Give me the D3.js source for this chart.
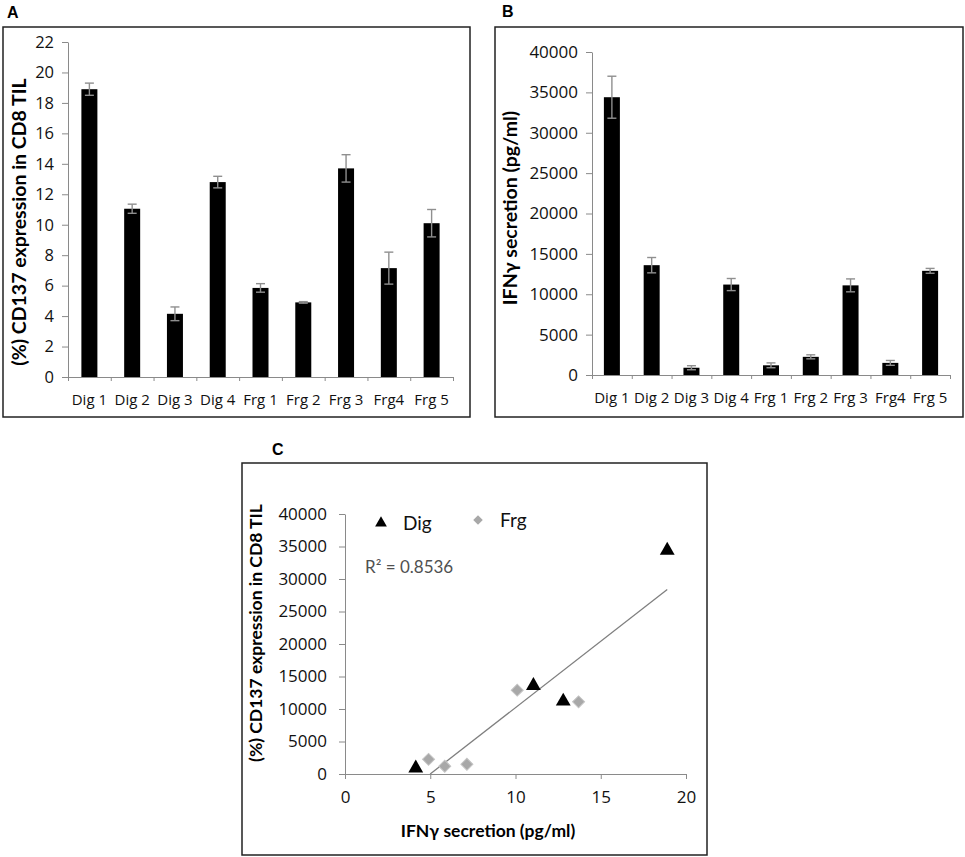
<!DOCTYPE html>
<html>
<head>
<meta charset="utf-8">
<script src="https://cdn.jsdelivr.net/npm/d3@7"></script>
<style>
  body { margin: 0; background: #fff; }
  svg { display: block; font-family: Lato, "Open Sans", sans-serif; }
  .axis path, .axis line { stroke: #8a8a8a; }
  .axis text { fill: #111; font-family: "Open Sans", sans-serif; }
</style>
</head>
<body>
<div id="chart"></div>
<script>
// Data
const categories = ["Dig 1", "Dig 2", "Dig 3", "Dig 4", "Frg 1", "Frg 2", "Frg 3", "Frg4", "Frg 5"];
const cd137Values = [18.9, 11.05, 4.15, 12.8, 5.85, 4.9, 13.7, 7.15, 10.1];
const cd137Errors = [0.4, 0.3, 0.45, 0.38, 0.28, 0.05, 0.9, 1.05, 0.9];
const ifngValues = [34400, 13600, 900, 11200, 1200, 2250, 11100, 1500, 12900];
const ifngErrors = [2600, 950, 250, 750, 300, 250, 800, 300, 300];
const cd137Ticks = [0, 2, 4, 6, 8, 10, 12, 14, 16, 18, 20, 22];
const ifngTicks = [0, 5000, 10000, 15000, 20000, 25000, 30000, 35000, 40000];
const scatterXTicks = [0, 5, 10, 15, 20];
const groups = ["Dig", "Frg"];
const r2Label = "R\u00B2 = 0.8536";
const cd137Title = "(%) CD137 expression in CD8 TIL";
const ifngTitle = "IFN\u03B3 secretion (pg/ml)";

const fmt = d3.format("d");
const svg = d3.select("#chart").append("svg").attr("width", 965).attr("height", 857);

// panel frames
function frame(x0, y0, x1, y1, letter, lx, ly) {
  svg.append("rect")
    .attr("x", x0).attr("y", y0).attr("width", x1 - x0).attr("height", y1 - y0)
    .attr("fill", "none").attr("stroke", "#222").attr("stroke-width", 1.5);
  svg.append("text").attr("x", lx).attr("y", ly)
    .attr("font-family", "Liberation Sans, Arial, sans-serif")
    .attr("font-weight", "bold").attr("font-size", 16).text(letter);
}

// bar chart with error bars
function barPanel(opts) {
  const g = svg.append("g");
  const slots = d3.scaleLinear().domain([0, categories.length]).range([opts.left, opts.right]);
  const y = d3.scaleLinear().domain([0, d3.max(opts.ticks)]).range([opts.bottom, opts.top]);
  const cx = (d) => slots(categories.indexOf(d) + 0.5);
  const bw = 16;

  g.selectAll("rect.bar").data(categories).join("rect")
    .attr("class", "bar")
    .attr("x", (d) => cx(d) - bw / 2)
    .attr("width", bw)
    .attr("y", (d, i) => y(opts.values[i]))
    .attr("height", (d, i) => y(0) - y(opts.values[i]))
    .attr("fill", "#000");

  // error bars
  const eb = g.selectAll("g.err").data(categories).join("g").attr("class", "err")
    .attr("stroke", "#8f8f8f").attr("stroke-width", 1.4);
  eb.append("line")
    .attr("x1", cx).attr("x2", cx)
    .attr("y1", (d, i) => y(opts.values[i] + opts.errors[i]))
    .attr("y2", (d, i) => y(opts.values[i] - opts.errors[i]));
  [1, -1].forEach((s) => {
    eb.append("line")
      .attr("x1", (d) => cx(d) - 4.5).attr("x2", (d) => cx(d) + 4.5)
      .attr("y1", (d, i) => y(opts.values[i] + s * opts.errors[i]))
      .attr("y2", (d, i) => y(opts.values[i] + s * opts.errors[i]));
  });

  const yAxis = g.append("g").attr("class", "axis")
    .attr("transform", `translate(${opts.left},0)`)
    .call(d3.axisLeft(y).tickValues(opts.ticks).tickFormat(fmt).tickSize(6).tickSizeOuter(0).tickPadding(8));
  yAxis.selectAll("text").attr("font-size", opts.tickFont);

  g.append("g").attr("class", "axis")
    .attr("transform", `translate(0,${opts.bottom})`)
    .call(d3.axisBottom(slots).tickValues(d3.range(0, categories.length + 1)).tickFormat("").tickSize(4).tickSizeOuter(0));

  g.selectAll("text.cat").data(categories).join("text")
    .attr("class", "cat")
    .attr("x", cx)
    .attr("y", opts.bottom + opts.catOffset)
    .attr("text-anchor", "middle")
    .attr("font-family", "Open Sans, sans-serif")
    .attr("font-size", 15)
    .attr("fill", "#111")
    .text((d) => d);

  g.append("text")
    .attr("transform", `translate(${opts.titleX},${opts.titleY}) rotate(-90)`)
    .attr("text-anchor", "middle")
    .attr("dominant-baseline", "middle")
    .attr("font-weight", "bold")
    .attr("font-size", opts.titleFont)
    .text(opts.title);
}

// Panel A
frame(3, 27, 470, 417, "A", 7, 18);
barPanel({
  left: 68, right: 453, top: 42, bottom: 377,
  values: cd137Values, errors: cd137Errors, ticks: cd137Ticks,
  tickFont: 16.5, catOffset: 28, title: cd137Title, titleX: 21, titleY: 222, titleFont: 19.5
});

// Panel B
frame(495, 27, 963, 417, "B", 502, 17);
barPanel({
  left: 592, right: 950, top: 52, bottom: 375,
  values: ifngValues, errors: ifngErrors, ticks: ifngTicks,
  tickFont: 17, catOffset: 28, title: ifngTitle, titleX: 512, titleY: 208, titleFont: 19.5
});

// Panel C: scatter of the same measurements
frame(242, 463, 707, 855, "C", 272, 455);
const pts = categories.map((c, i) => ({
  group: c.startsWith("Dig") ? "Dig" : "Frg",
  x: cd137Values[i],
  y: ifngValues[i]
}));

const cg = svg.append("g");
const sx = d3.scaleLinear().domain([0, 20]).range([345, 686]);
const sy = d3.scaleLinear().domain([0, 40000]).range([774, 514]);

const cya = cg.append("g").attr("class", "axis").attr("transform", "translate(345,0)")
  .call(d3.axisLeft(sy).tickValues(ifngTicks).tickFormat(fmt).tickSize(6).tickSizeOuter(0).tickPadding(12));
cya.selectAll("text").attr("font-size", 17).attr("fill", "#505050");
const cxa = cg.append("g").attr("class", "axis").attr("transform", "translate(0,774)")
  .call(d3.axisBottom(sx).tickValues(scatterXTicks).tickFormat(fmt).tickSize(5).tickSizeOuter(0).tickPadding(12));
cxa.selectAll("text").attr("font-size", 17).attr("fill", "#505050");

// least squares trendline
const mx = d3.mean(pts, (d) => d.x);
const my = d3.mean(pts, (d) => d.y);
const slope = d3.sum(pts, (d) => (d.x - mx) * (d.y - my)) / d3.sum(pts, (d) => (d.x - mx) ** 2);
const intercept = my - slope * mx;
const xStart = Math.max(d3.min(pts, (d) => d.x), -intercept / slope);
const xEnd = d3.max(pts, (d) => d.x);
cg.append("line")
  .attr("x1", sx(xStart)).attr("y1", sy(intercept + slope * xStart))
  .attr("x2", sx(xEnd)).attr("y2", sy(intercept + slope * xEnd))
  .attr("stroke", "#7f7f7f").attr("stroke-width", 1.3);

const shape = {
  Dig: d3.symbol().type(d3.symbolTriangle).size(95),
  Frg: d3.symbol().type(d3.symbolSquare).size(72)
};
const fill = { Dig: "#000", Frg: "#a8a8a8" };

cg.selectAll("path.pt").data(pts).join("path")
  .attr("class", "pt")
  .attr("d", (d) => shape[d.group]())
  .attr("fill", (d) => fill[d.group])
  .attr("stroke", (d) => d.group === "Frg" ? "#c4c4c4" : "none")
  .attr("transform", (d) => `translate(${sx(d.x)},${sy(d.y)}) rotate(${d.group === "Frg" ? 45 : 0})`);

// legend
const legend = cg.selectAll("g.leg").data(groups).join("g")
  .attr("class", "leg")
  .attr("transform", (d, i) => `translate(${381 + i * 97},${523 - i * 3})`);
legend.append("path")
  .attr("d", (d) => d3.symbol().type(d === "Dig" ? d3.symbolTriangle : d3.symbolSquare).size(d === "Dig" ? 60 : 45)())
  .attr("transform", (d) => d === "Frg" ? "rotate(45)" : null)
  .attr("fill", (d) => fill[d]);
legend.append("text")
  .attr("x", 22).attr("y", 7)
  .attr("font-size", 19)
  .attr("fill", "#111")
  .text((d) => d);

cg.append("text").attr("x", 365).attr("y", 573)
  .attr("font-size", 17).attr("fill", "#505050").text(r2Label);

cg.append("text")
  .attr("transform", "translate(258,633) rotate(-90)")
  .attr("text-anchor", "middle").attr("dominant-baseline", "middle")
  .attr("font-weight", "bold").attr("font-size", 17.5)
  .text(cd137Title);
cg.append("text")
  .attr("x", 488).attr("y", 837)
  .attr("text-anchor", "middle")
  .attr("font-weight", "bold").attr("font-size", 17.5)
  .text(ifngTitle);
</script>
</body>
</html>
